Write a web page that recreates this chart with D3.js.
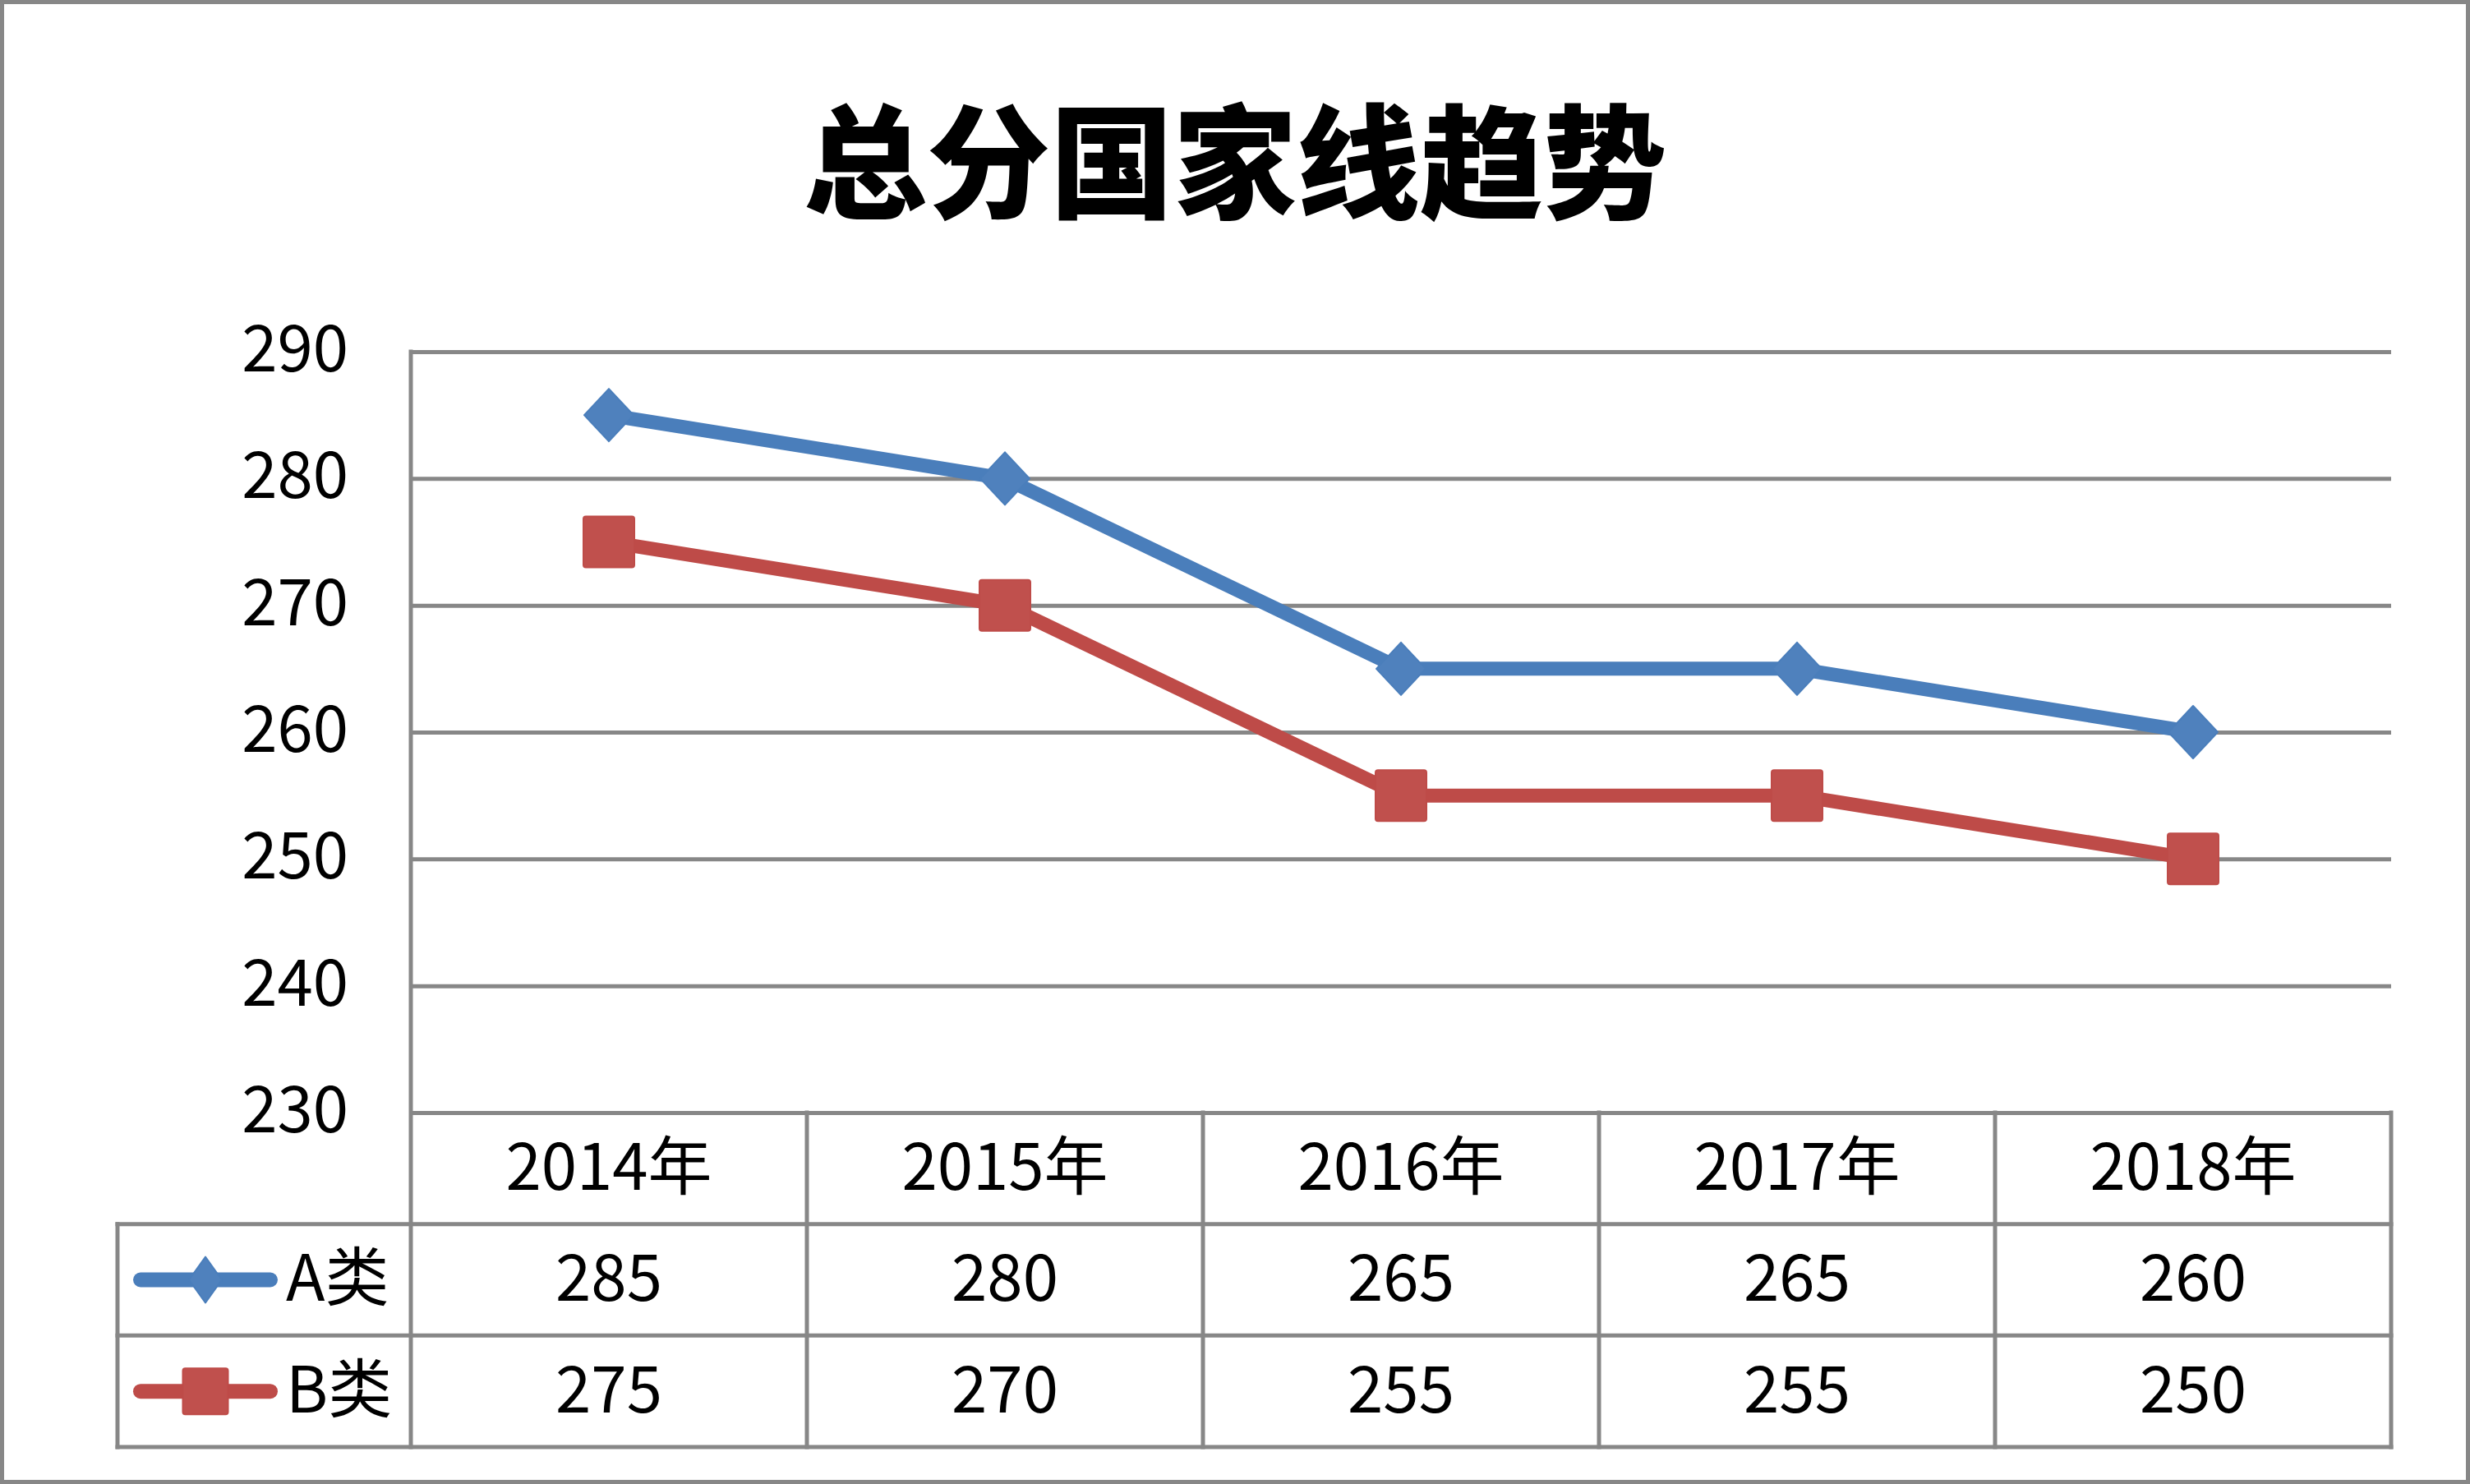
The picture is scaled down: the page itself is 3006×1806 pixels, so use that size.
<!DOCTYPE html>
<html>
<head>
<meta charset="utf-8">
<script src="https://cdn.jsdelivr.net/npm/d3@7"></script>
<style>
  body { margin: 0; background: #fff; }
  svg { display: block; font-family: "Noto Sans CJK SC", "Noto Sans", sans-serif; }
</style>
</head>
<body>
<svg id="chart"></svg>
<script>
// chart values
const years = ["2014年", "2015年", "2016年", "2017年", "2018年"];
const seriesNames = ["A类", "B类"];
const seriesA = [285, 280, 265, 265, 260];
const seriesB = [275, 270, 255, 255, 250];
const yTicks = [230, 240, 250, 260, 270, 280, 290];
const titleText = "总分国家线趋势";

const W = 3006, H = 1806;
const plot = { left: 500, right: 2910, top: 428, bottom: 1354 };
const tableLeft = 143, tableBottom = 1761;
const gridColor = "#878787";
const labelSize = "78px";

const svg = d3.select("#chart")
    .attr("width", W)
    .attr("height", H);

// outer border
svg.append("rect")
    .attr("x", 2.5).attr("y", 2.5)
    .attr("width", W - 5).attr("height", H - 5)
    .attr("fill", "#fff")
    .attr("stroke", gridColor)
    .attr("stroke-width", 5);

// title
svg.append("text")
    .attr("x", 1503)
    .attr("y", 200)
    .attr("dy", "0.36em")
    .attr("text-anchor", "middle")
    .attr("font-size", "150px")
    .attr("font-weight", 900)
    .attr("fill", "#000")
    .text(titleText);

// scales
const x = d3.scaleBand()
    .domain(years)
    .range([plot.left, plot.right]);

const y = d3.scaleLinear()
    .domain([230, 290])
    .range([plot.bottom, plot.top]);

const rows = d3.scaleBand()
    .domain(["year", ...seriesNames])
    .range([plot.bottom, tableBottom]);

// gridlines + tick labels
const yAxis = svg.append("g")
    .attr("transform", `translate(${plot.left},0)`)
    .call(d3.axisLeft(y).tickValues(yTicks).tickSize(-(plot.right - plot.left)).tickPadding(76));

yAxis.select(".domain").remove();
yAxis.selectAll(".tick line")
    .attr("stroke", gridColor)
    .attr("stroke-width", 5);
yAxis.selectAll(".tick text")
    .attr("font-family", "'Noto Sans CJK SC', sans-serif")
    .attr("font-size", labelSize)
    .attr("fill", "#000")
    .attr("dy", "0.3em");

// data table lines
const tbl = svg.append("g")
    .attr("stroke", gridColor)
    .attr("stroke-width", 5)
    .attr("stroke-linecap", "square");

// vertical axis line, running down through the table
tbl.append("line")
    .attr("x1", plot.left).attr("x2", plot.left)
    .attr("y1", plot.top).attr("y2", tableBottom);

// column dividers
tbl.selectAll(".col")
    .data(years)
    .enter().append("line")
    .attr("class", "col")
    .attr("x1", d => x(d) + x.bandwidth())
    .attr("x2", d => x(d) + x.bandwidth())
    .attr("y1", plot.bottom)
    .attr("y2", tableBottom);

// row lines below the year row
tbl.selectAll(".row")
    .data(seriesNames)
    .enter().append("line")
    .attr("class", "row")
    .attr("x1", tableLeft).attr("x2", plot.right)
    .attr("y1", d => rows(d))
    .attr("y2", d => rows(d));

tbl.append("line")
    .attr("x1", tableLeft).attr("x2", plot.right)
    .attr("y1", tableBottom).attr("y2", tableBottom);

tbl.append("line")
    .attr("x1", tableLeft).attr("x2", tableLeft)
    .attr("y1", rows(seriesNames[0])).attr("y2", tableBottom);

// year labels
svg.selectAll(".year-label")
    .data(years)
    .enter().append("text")
    .attr("class", "year-label")
    .attr("x", d => x(d) + x.bandwidth() / 2)
    .attr("y", rows("year") + rows.bandwidth() / 2)
    .attr("dy", "0.33em")
    .attr("text-anchor", "middle")
    .attr("font-size", labelSize)
    .text(d => d);

const series = [
    { name: seriesNames[0], values: seriesA, line: "#4A7EBB", fill: "#4F81BD", marker: "diamond" },
    { name: seriesNames[1], values: seriesB, line: "#BE4B48", fill: "#C0504D", marker: "square" }
];

// value cells
series.forEach(s => {
    svg.selectAll(null)
        .data(s.values)
        .enter().append("text")
        .attr("x", (d, i) => x(years[i]) + x.bandwidth() / 2)
        .attr("y", rows(s.name) + rows.bandwidth() / 2)
        .attr("dy", "0.33em")
        .attr("text-anchor", "middle")
        .attr("font-size", labelSize)
        .text(d => d);
});

function drawMarker(g, s, cx, cy, w, h) {
    if (s.marker === "diamond") {
        g.append("path")
            .attr("d", `M${cx},${cy - h / 2}L${cx + w / 2},${cy}L${cx},${cy + h / 2}L${cx - w / 2},${cy}Z`)
            .attr("fill", s.fill)
            .attr("stroke", s.line)
            .attr("stroke-width", 2)
            .attr("stroke-linejoin", "round");
    } else {
        g.append("rect")
            .attr("x", cx - w / 2).attr("y", cy - h / 2)
            .attr("width", w).attr("height", h)
            .attr("rx", 3)
            .attr("fill", s.fill)
            .attr("stroke", s.line)
            .attr("stroke-width", 2);
    }
}

// lines + markers
const line = d3.line()
    .x((d, i) => x(years[i]) + x.bandwidth() / 2)
    .y(d => y(d));

series.forEach(s => {
    const g = svg.append("g");
    g.append("path")
        .datum(s.values)
        .attr("fill", "none")
        .attr("stroke", s.line)
        .attr("stroke-width", 17)
        .attr("stroke-linejoin", "round")
        .attr("d", line);
    s.values.forEach((v, i) => {
        const cx = x(years[i]) + x.bandwidth() / 2;
        if (s.marker === "diamond") drawMarker(g, s, cx, y(v), 60, 64);
        else drawMarker(g, s, cx, y(v), 62, 62);
    });
});

// legend keys in the table
series.forEach(s => {
    const cy = rows(s.name) + rows.bandwidth() / 2;
    const g = svg.append("g");
    g.append("line")
        .attr("x1", 171).attr("x2", 329)
        .attr("y1", cy).attr("y2", cy)
        .attr("stroke", s.line)
        .attr("stroke-width", 18)
        .attr("stroke-linecap", "round");
    if (s.marker === "diamond") drawMarker(g, s, 250, cy, 40, 56);
    else drawMarker(g, s, 250, cy, 55, 56);
    g.append("text")
        .attr("x", 348)
        .attr("y", cy)
        .attr("dy", "0.33em")
        .attr("font-size", labelSize)
        .text(s.name);
});
</script>
</body>
</html>
